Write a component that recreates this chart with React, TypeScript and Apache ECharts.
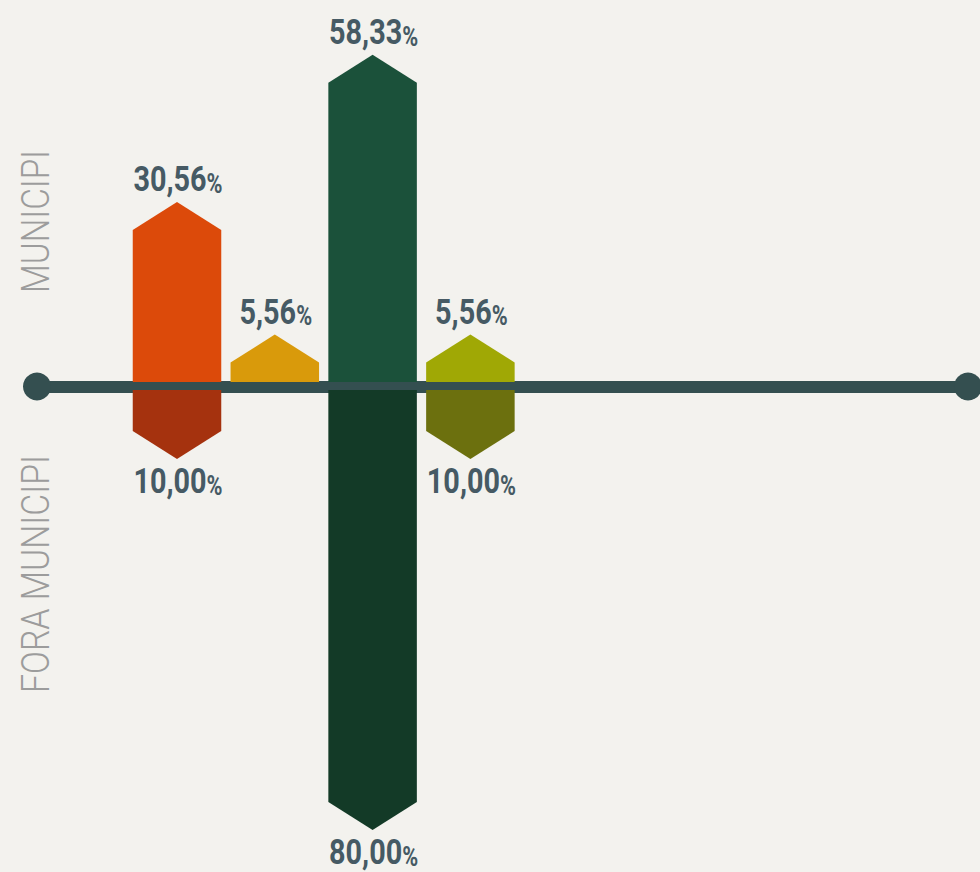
import React, { useEffect, useRef } from "react";
import * as echarts from "echarts";

const categories = ["Categoria 1", "Categoria 2", "Categoria 3", "Categoria 4"];
const municipiValues = [30.56, 5.56, 58.33, 5.56];
const foraMunicipiValues = [10.0, 0, 80.0, 10.0];
const municipiColors = ["#dc4a0a", "#d99a0b", "#1b513a", "#a0a805"];
const foraColors = ["#a5320e", "#d99a0b", "#133a27", "#6c700e"];
const sideLabels = ["MUNICIPI", "FORA MUNICIPI"];

const LABEL_COLOR = "#465a64";
const LINE_COLOR = "#344f50";
const BAR_W = 0.905;
const CAP = 28;

function fmt(v: number) {
  return v.toFixed(2).replace(".", ",");
}

function makeRender(dir: number, colors: string[]) {
  return (params: any, api: any) => {
    const x = api.value(0);
    const v = api.value(1);
    if (!v) return null;
    const zero = api.coord([x, 0]);
    const end = api.coord([x, v]);
    const hw = api.size([BAR_W, 0])[0] / 2;
    const cx = zero[0];
    let base: number, tip: number, shoulder: number, ly: number;
    if (dir > 0) {
      base = zero[1] - 4.5;
      tip = end[1] - 4.5 - 18;
      shoulder = Math.min(base, tip + CAP);
      ly = tip - 21;
    } else {
      base = zero[1] + 3.5;
      tip = end[1] + 3.5 + 16;
      shoulder = Math.max(base, tip - CAP);
      ly = tip + 24;
    }
    const color = colors[params.dataIndex];
    return {
      type: "group",
      children: [
        {
          type: "polygon",
          shape: {
            points: [
              [cx - hw, base],
              [cx - hw, shoulder],
              [cx, tip],
              [cx + hw, shoulder],
              [cx + hw, base],
            ],
          },
          style: { fill: color },
        },
        {
          type: "text",
          x: cx + 1,
          y: ly,
          scaleX: 0.8,
          style: {
            text: "{n|" + fmt(Math.abs(v)) + "}{p|%}",
            align: "center",
            verticalAlign: "middle",
            rich: {
              n: {
                fontFamily: "Roboto",
                fontWeight: "bold",
                fontSize: 36,
                lineHeight: 32,
                fill: LABEL_COLOR,
                color: LABEL_COLOR,
                verticalAlign: "bottom",
              },
              p: {
                fontFamily: "Roboto",
                fontWeight: "bold",
                fontSize: 27,
                lineHeight: 32,
                fill: LABEL_COLOR,
                color: LABEL_COLOR,
                verticalAlign: "bottom",
              },
            },
          },
        },
      ],
    };
  };
}

function measure(text: string, font: string) {
  const ctx = document.createElement("canvas").getContext("2d");
  if (!ctx) return 1;
  ctx.font = font;
  return ctx.measureText(text).width;
}

export default function App() {
  const ref = useRef<HTMLDivElement>(null);
  useEffect(() => {
    if (!ref.current) return;
    const chart = echarts.init(ref.current, undefined, { renderer: "svg" });
    const sideFont = "300 39px Roboto";
    const sideSpecs = [
      { text: sideLabels[0], y: 221.5, len: 143 },
      { text: sideLabels[1], y: 574, len: 238 },
    ];
    chart.setOption({
      animation: false,
      backgroundColor: "#f3f2ee",
      grid: { left: 37, right: 12, top: 15.5, bottom: 8.5 },
      xAxis: {
        type: "value",
        min: -0.4315,
        max: 9.088,
        axisLine: {
          show: true,
          onZero: true,
          symbol: ["circle", "circle"],
          symbolSize: [28, 28],
          lineStyle: { color: LINE_COLOR, width: 12 },
        },
        axisTick: { show: false },
        axisLabel: { show: false },
        splitLine: { show: false },
      },
      yAxis: {
        type: "value",
        min: -90,
        max: 70,
        show: false,
        splitLine: { show: false },
      },
      graphic: sideSpecs.map((s) => ({
        type: "text",
        x: 36,
        y: s.y,
        rotation: Math.PI / 2,
        scaleX: s.len / measure(s.text, sideFont),
        style: {
          text: s.text,
          font: sideFont,
          fill: "#9c9c9c",
          align: "center",
          verticalAlign: "middle",
        },
      })),
      series: [
        {
          name: "Municipi",
          type: "custom",
          clip: false,
          renderItem: makeRender(1, municipiColors),
          data: municipiValues.map((v, i) => [i + 1, v, categories[i]]),
          z: 3,
        },
        {
          name: "Fora municipi",
          type: "custom",
          clip: false,
          renderItem: makeRender(-1, foraColors),
          data: foraMunicipiValues.map((v, i) => [i + 1, -v, categories[i]]),
          z: 3,
        },
      ],
    });
    return () => chart.dispose();
  }, []);
  return (
    <div
      ref={ref}
      style={{ position: "absolute", left: 0, top: 0, width: 980, height: 872 }}
    />
  );
}
